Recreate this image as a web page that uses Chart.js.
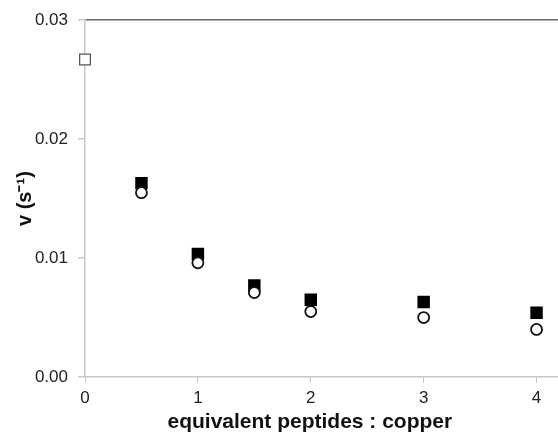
<!DOCTYPE html>
<html lang="en">
<head>
    <meta charset="UTF-8">
    <title>rate_vs_equivalents</title>
    <script src="https://cdn.jsdelivr.net/npm/chart.js"></script>
    <style>
        html, body { margin: 0; padding: 0; background: #fff; }
        #wrap { width: 558px; height: 438px; }
    </style>
</head>
<body>
    <div id="wrap"><canvas id="rateChart"></canvas></div>
    <script>
        // values
        const freeCopper = [{ x: 0, y: 0.0267 }];
        const eqFilled = [0.5, 1, 1.5, 2, 3, 4];
        const vFilled = [0.0163, 0.01035, 0.0077, 0.0065, 0.0063, 0.0054];
        const eqOpen = [0.5, 1, 1.5, 2, 3, 4];
        const vOpen = [0.0155, 0.0096, 0.0071, 0.0055, 0.0050, 0.0040];
        const yTicks = [0, 0.01, 0.02, 0.03];

        const toPoints = (xs, ys) => xs.map((x, i) => ({ x: x, y: ys[i] }));

        const ctx = document.getElementById('rateChart').getContext('2d');
        new Chart(ctx, {
            type: 'scatter',
            data: {
                datasets: [{
                    label: 'open circles',
                    data: toPoints(eqOpen, vOpen),
                    pointStyle: 'circle',
                    pointRadius: 5.5,
                    backgroundColor: '#fff',
                    borderColor: '#111',
                    borderWidth: 1.8
                }, {
                    label: 'filled squares',
                    data: toPoints(eqFilled, vFilled),
                    pointStyle: 'rect',
                    pointRadius: 8.8,
                    backgroundColor: '#000',
                    borderColor: '#000',
                    borderWidth: 0
                }, {
                    label: 'free copper',
                    data: freeCopper,
                    pointStyle: 'rect',
                    pointRadius: 7.6,
                    backgroundColor: '#fff',
                    borderColor: '#555',
                    borderWidth: 1.3,
                    clip: false
                }]
            },
            options: {
                responsive: true,
                maintainAspectRatio: false,
                animation: false,
                layout: {
                    autoPadding: false,
                    padding: { top: 20, right: 0, left: 0, bottom: 0 }
                },
                plugins: {
                    legend: { display: false },
                    tooltip: { enabled: false }
                },
                scales: {
                    x: {
                        type: 'linear',
                        min: 0,
                        max: 4.19,
                        afterFit: scale => {
                            scale.height = 61;
                            scale.paddingRight = 0;
                            scale.paddingLeft = 0;
                        },
                        ticks: {
                            stepSize: 1,
                            includeBounds: false,
                            color: '#222',
                            padding: 5,
                            font: { family: 'Liberation Sans, Arial', size: 17 }
                        },
                        grid: {
                            drawOnChartArea: false,
                            tickLength: 6,
                            tickColor: '#c8c8c8'
                        },
                        border: { color: '#c8c8c8', width: 1.5 },
                        title: {
                            display: true,
                            text: 'equivalent peptides : copper    ',
                            color: '#111',
                            padding: { top: 0, bottom: 3 },
                            font: { family: 'Liberation Sans, Arial', size: 21, weight: 'bold' }
                        }
                    },
                    y: {
                        min: 0,
                        max: 0.03,
                        afterFit: scale => { scale.width = 85; },
                        afterBuildTicks: scale => { scale.ticks = yTicks.map(v => ({ value: v })); },
                        ticks: {
                            color: '#222',
                            padding: 10,
                            callback: v => v.toFixed(2),
                            font: { family: 'Liberation Sans, Arial', size: 17 }
                        },
                        grid: {
                            drawOnChartArea: true,
                            tickLength: 7,
                            lineWidth: 1.5,
                            color: c => (c.tick && c.tick.value === 0.03) ? '#666' : 'rgba(0,0,0,0)',
                            tickColor: '#c8c8c8'
                        },
                        border: { color: '#c8c8c8', width: 1.5 },
                        title: {
                            display: true,
                            text: 'v (s\u207B\u00B9)',
                            color: '#111',
                            padding: { top: 13, bottom: 4 },
                            font: { family: 'Liberation Sans, Arial', size: 20, weight: 'bold' }
                        }
                    }
                }
            }
        });
    </script>
</body>
</html>
